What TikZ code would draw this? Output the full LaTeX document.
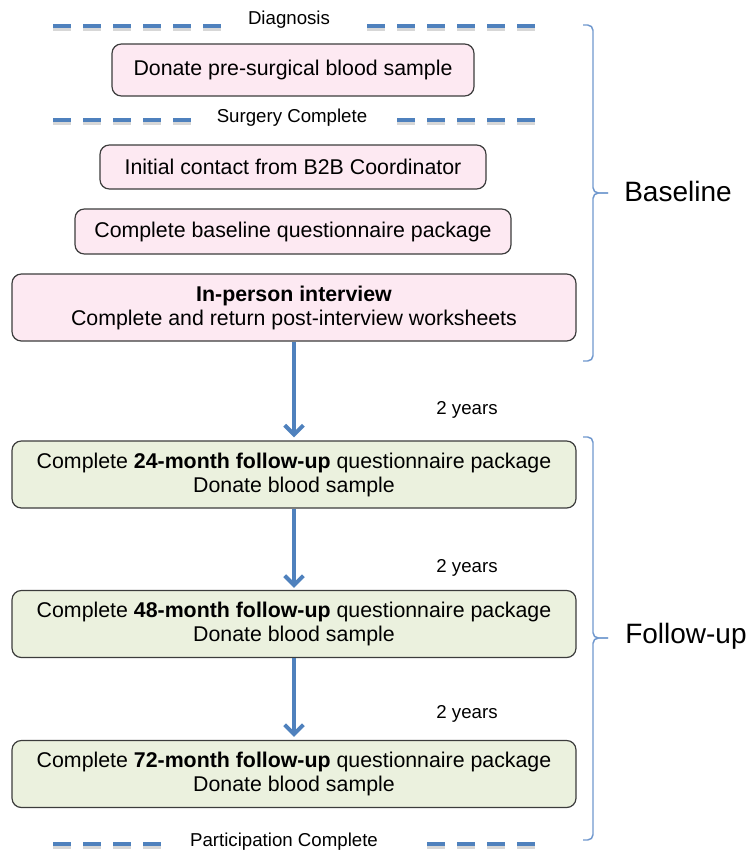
\documentclass[tikz,border=0pt]{standalone}
\usepackage{fontspec}
\setmainfont{Liberation Sans}
\usetikzlibrary{arrows.meta}

\newdimen\pxu \pxu=0.75pt
\definecolor{linkblue}{RGB}{79,129,189}
\definecolor{bracecol}{RGB}{112,152,206}
\definecolor{pinkfill}{RGB}{253,233,242}
\definecolor{greenfill}{RGB}{235,241,222}
\definecolor{edgegray}{RGB}{60,60,60}

\tikzset{
  basebox/.style={draw=edgegray, line width=0.9pt, rounded corners=7pt, fill=pinkfill,
    align=center, inner sep=0pt, font=\fontsize{16}{18}\selectfont},
  followbox/.style={basebox, fill=greenfill, minimum width=564\pxu, minimum height=67\pxu},
  milestone/.style={font=\fontsize{14}{16}\selectfont, inner sep=0pt},
  milestoneline/.style={linkblue, line width=3pt, dash pattern=on 13.5pt off 9pt},
  lineshadow/.style={black!45, opacity=0.35, line width=3.5pt, dash pattern=on 13.5pt off 9pt},
  gaplabel/.style={font=\fontsize{14}{16}\selectfont, inner sep=0pt},
  phaselabel/.style={font=\fontsize{21}{24}\selectfont, anchor=west, inner sep=0pt},
  steparrow/.style={-{Straight Barb[length=7pt,width=14pt]}, linkblue, line width=3pt},
  phasebrace/.style={bracecol, line width=1.1pt, rounded corners=4pt}
}

\begin{document}
\begin{tikzpicture}[x=0.75pt, y=-0.75pt]
    \useasboundingbox (0,0) rectangle (749,850);

    % Milestone rules
    \node[milestone] (diag) at (289,20) {Diagnosis};
    \coordinate (diagL) at (53,26);  \coordinate (diagLe) at (228,26);
    \coordinate (diagR) at (535,26); \coordinate (diagRe) at (362,26);
    \node[milestone] (surg) at (292,118) {Surgery Complete};
    \coordinate (surgL) at (53,120);  \coordinate (surgLe) at (196,120);
    \coordinate (surgR) at (535,120); \coordinate (surgRe) at (392,120);
    \node[milestone] (part) at (284,842) {Participation Complete};
    \coordinate (partL) at (53,844);  \coordinate (partLe) at (164,844);
    \coordinate (partR) at (535,844); \coordinate (partRe) at (420,844);

    \draw[lineshadow, transform canvas={yshift=-2pt}] (diagL) -- (diagLe) (diagR) -- (diagRe)
        (surgL) -- (surgLe) (surgR) -- (surgRe) (partL) -- (partLe) (partR) -- (partRe);
    \draw[milestoneline] (diagL) -- (diagLe) (diagR) -- (diagRe);
    \draw[milestoneline] (surgL) -- (surgLe) (surgR) -- (surgRe);
    \draw[milestoneline] (partL) -- (partLe) (partR) -- (partRe);

    % Baseline steps
    \node[basebox, minimum width=362\pxu, minimum height=52\pxu] (blood) at (293,70)
        {Donate pre-surgical blood sample};
    \node[basebox, minimum width=386\pxu, minimum height=44\pxu] (contact) at (293,167)
        {Initial contact from B2B Coordinator};
    \node[basebox, minimum width=436\pxu, minimum height=45\pxu] (quest) at (293,231.5)
        {Complete baseline questionnaire package};
    \node[basebox, minimum width=564\pxu, minimum height=67\pxu] (interview) at (294,307.5)
        {\textbf{In-person interview}\\Complete and return post-interview worksheets};

    % Follow-up steps
    \node[followbox] (fu24) at (294,474.5)
        {Complete \textbf{24-month follow-up} questionnaire package\\Donate blood sample};
    \node[followbox] (fu48) at (294,624)
        {Complete \textbf{48-month follow-up} questionnaire package\\Donate blood sample};
    \node[followbox] (fu72) at (294,774)
        {Complete \textbf{72-month follow-up} questionnaire package\\Donate blood sample};

    % Arrows
    \draw[steparrow] (interview.south) -- ([yshift=3\pxu]fu24.north);
    \draw[steparrow] (fu24.south) -- ([yshift=2\pxu]fu48.north);
    \draw[steparrow] (fu48.south) -- ([yshift=3\pxu]fu72.north);
    \node[gaplabel] (gap1) at (467,410) {2 years};
    \node[gaplabel] (gap2) at (467,568) {2 years};
    \node[gaplabel] (gap3) at (467,714) {2 years};

    % Phase braces
    \coordinate (baseTop) at (583,25);  \coordinate (baseTip) at (608,193);
    \coordinate (baseBot) at (583,361);
    \coordinate (fuTop) at (583,437);   \coordinate (fuTip) at (608,638);
    \coordinate (fuBot) at (583,840);
    \draw[phasebrace] (baseTop) -- (593,25) -- (593,193) -- (baseTip);
    \draw[phasebrace] (baseTip) -- (593,193) -- (593,361) -- (baseBot);
    \draw[phasebrace] (fuTop) -- (593,437) -- (593,638) -- (fuTip);
    \draw[phasebrace] (fuTip) -- (593,638) -- (593,840) -- (fuBot);
    \node[phaselabel] (baseline) at (624,191) {Baseline};
    \node[phaselabel] (followup) at (625,636) {Follow-up};
\end{tikzpicture}
\end{document}
